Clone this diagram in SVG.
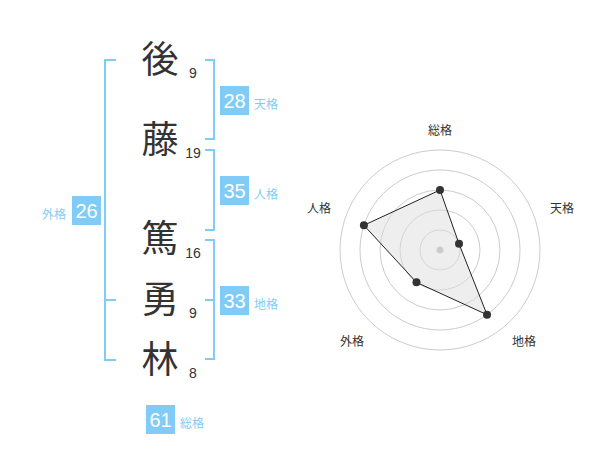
<svg xmlns="http://www.w3.org/2000/svg" width="600" height="470" viewBox="0 0 600 470">
<style>
.br{fill:none;stroke:#80ccf7;stroke-width:2}
.box{fill:#80ccf7}
.bn{font-family:"Liberation Sans",Arial,sans-serif;font-size:20px;fill:#fff;text-anchor:middle}
.bl{font-family:"Noto Sans CJK JP",sans-serif;font-size:12px;fill:#80ccf7}
.ch{font-family:"Noto Sans CJK JP",sans-serif;font-size:37px;fill:#333;text-anchor:middle}
.st{font-family:"Liberation Sans",Arial,sans-serif;font-size:14px;fill:#333;text-anchor:middle}
.ring{fill:none;stroke:#ccc;stroke-width:1}
.rl{font-family:"Noto Sans CJK JP",sans-serif;font-size:12px;fill:#333;text-anchor:middle}
.dot{fill:#333}
</style>
<rect width="600" height="470" fill="#fff"/>
<g id="connectors">
<path class="br" d="M116,60 H105 V360 H116 M105,300 H116"/>
<path class="br" d="M205,60 H214 V139 H205"/>
<path class="br" d="M205,150 H214 V230 H205"/>
<path class="br" d="M205,240 H214 V359 H205 M214,300 H205"/>
</g>
<g id="chars">
<text class="ch" x="160" y="73">後</text>
<text class="st" x="193" y="78">9</text>
<text class="ch" x="160" y="153">藤</text>
<text class="st" x="193" y="158">19</text>
<text class="ch" x="160" y="252">篤</text>
<text class="st" x="193" y="258">16</text>
<text class="ch" x="160" y="313">勇</text>
<text class="st" x="193" y="318">9</text>
<text class="ch" x="160" y="373">林</text>
<text class="st" x="193" y="378">8</text>
</g>
<g id="tenkaku">
<rect class="box" x="220" y="86" width="29" height="29"/>
<text class="bn" x="234.5" y="108">28</text>
<text class="bl" x="254" y="108.5">天格</text>
</g>
<g id="jinkaku">
<rect class="box" x="220" y="176" width="29" height="29"/>
<text class="bn" x="234.5" y="198">35</text>
<text class="bl" x="254" y="198.5">人格</text>
</g>
<g id="gaikaku">
<rect class="box" x="72" y="196" width="29" height="29"/>
<text class="bn" x="86.5" y="218">26</text>
<text class="bl" x="42" y="218.5">外格</text>
</g>
<g id="chikaku">
<rect class="box" x="220" y="286" width="29" height="29"/>
<text class="bn" x="234.5" y="308">33</text>
<text class="bl" x="254" y="308.5">地格</text>
</g>
<g id="soukaku">
<rect class="box" x="146" y="405" width="29" height="29"/>
<text class="bn" x="160.5" y="427">61</text>
<text class="bl" x="180" y="427.5">総格</text>
</g>
<g id="radar">
<circle class="ring" cx="440" cy="250" r="20"/>
<circle class="ring" cx="440" cy="250" r="40"/>
<circle class="ring" cx="440" cy="250" r="60"/>
<circle class="ring" cx="440" cy="250" r="80"/>
<circle class="ring" cx="440" cy="250" r="100"/>
<polygon points="440,190 459.02,243.82 487.02,314.72 416.49,282.36 363.91,225.28" fill="#ddd" fill-opacity="0.5" stroke="#222" stroke-width="1"/>
<circle cx="440" cy="250" r="3.5" fill="#ccc"/>
<circle class="dot" cx="440" cy="190" r="4"/>
<circle class="dot" cx="459.02" cy="243.82" r="4"/>
<circle class="dot" cx="487.02" cy="314.72" r="4"/>
<circle class="dot" cx="416.49" cy="282.36" r="4"/>
<circle class="dot" cx="363.91" cy="225.28" r="4"/>
<text class="rl" x="440" y="134.5">総格</text>
<text class="rl" x="562" y="212.5">天格</text>
<text class="rl" x="524" y="346">地格</text>
<text class="rl" x="352" y="346">外格</text>
<text class="rl" x="319" y="212.5">人格</text>
</g>
</svg>
